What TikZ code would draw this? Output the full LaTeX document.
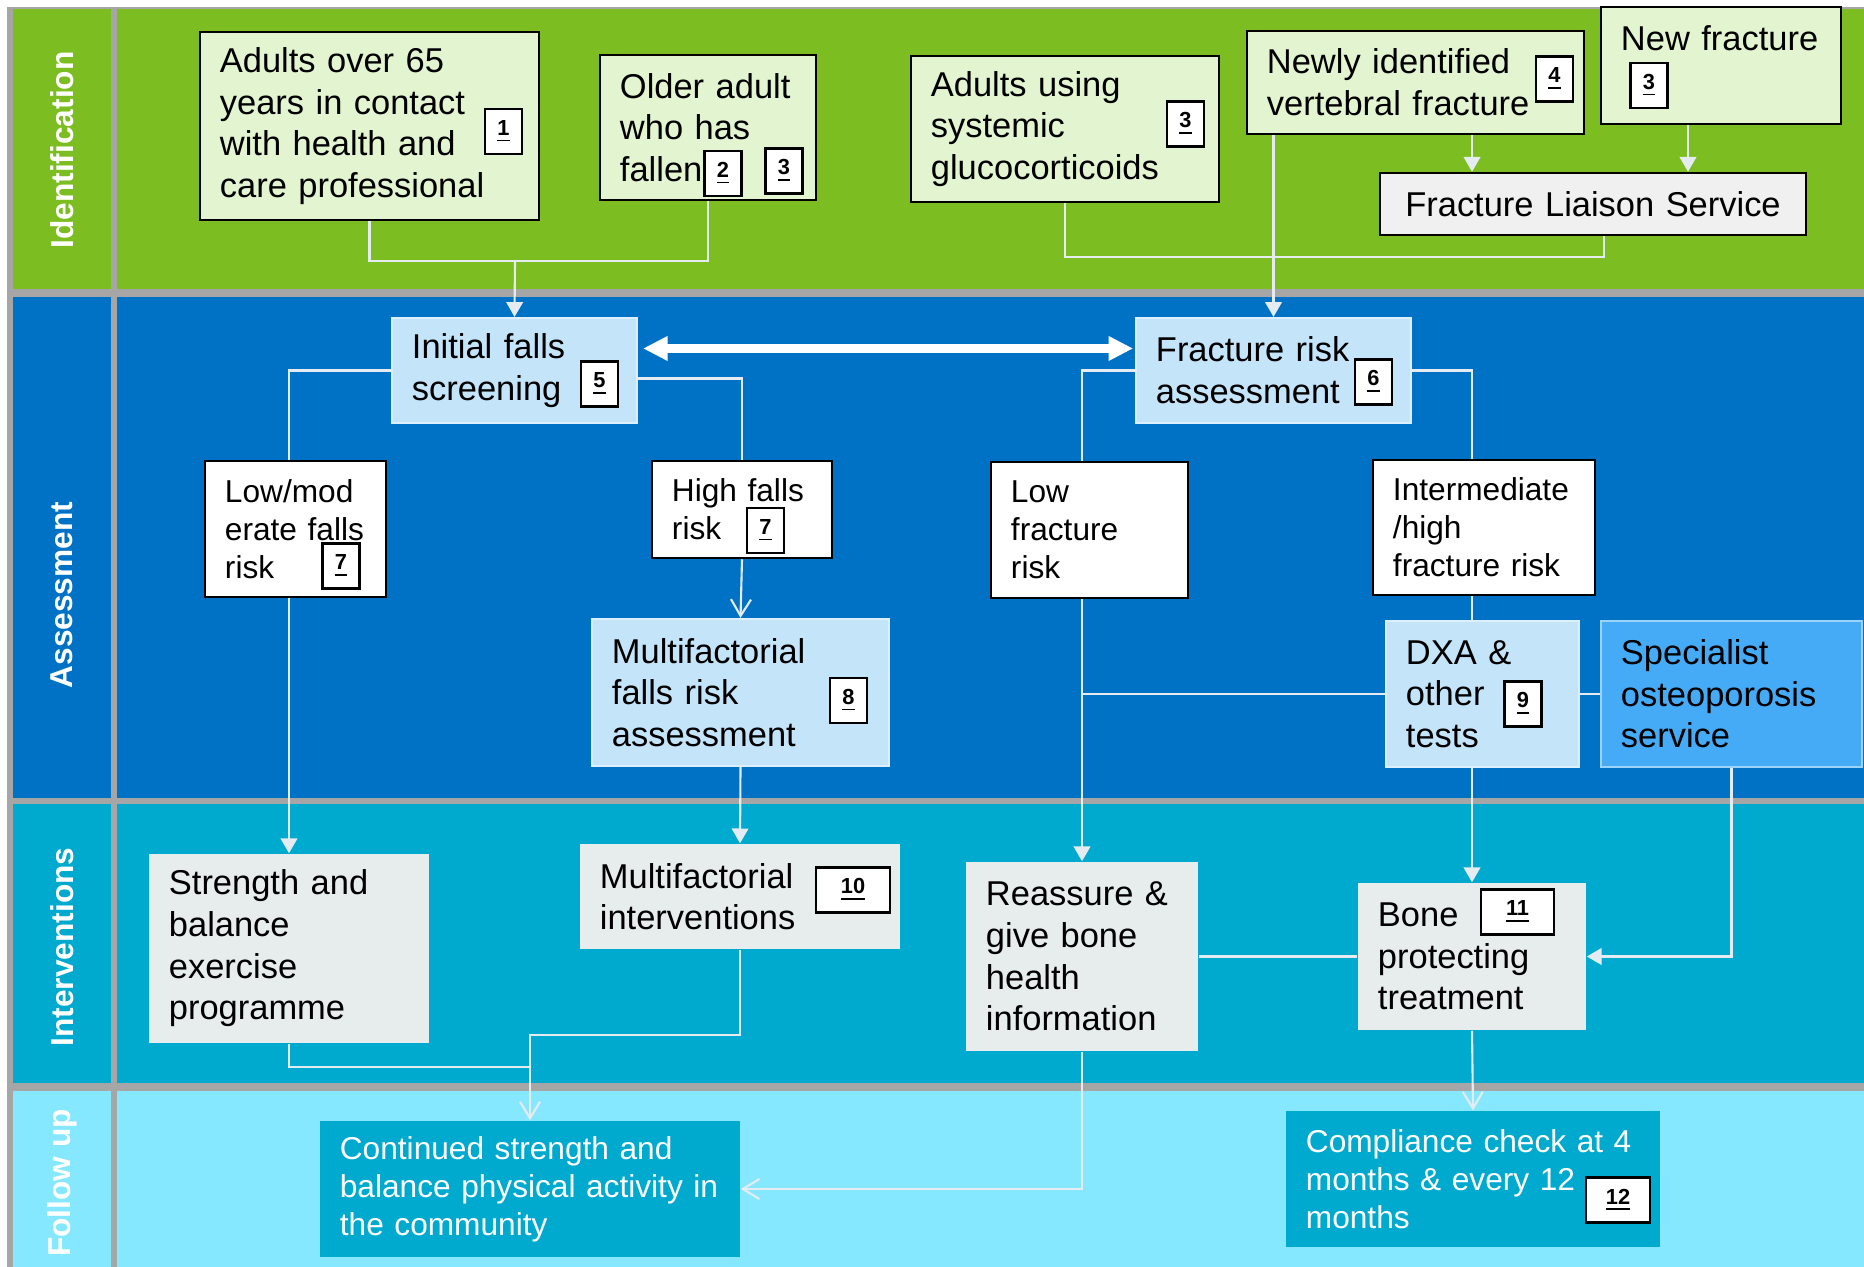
\documentclass[tikz,border=0pt]{standalone}
\usepackage{fontspec}
\setmainfont{Liberation Sans}
\usetikzlibrary{arrows.meta}

\definecolor{bandgreen}{RGB}{124,190,33}
\definecolor{boxgreen}{RGB}{227,245,208}
\definecolor{bandblue}{RGB}{0,114,198}
\definecolor{boxblue}{RGB}{196,228,250}
\definecolor{specblue}{RGB}{69,171,246}
\definecolor{bandint}{RGB}{0,169,206}
\definecolor{bandfol}{RGB}{134,232,255}
\definecolor{boxgray}{RGB}{231,236,236}
\definecolor{flsgray}{RGB}{240,240,240}
\definecolor{sepgray}{RGB}{166,166,166}
\definecolor{linecol}{RGB}{228,236,242}

\begin{document}
\begin{tikzpicture}[x=0.01cm,y=-0.01cm,
    big/.style={font=\fontsize{9.8}{11.84}\selectfont},
    small/.style={font=\fontsize{9}{10.8}\selectfont},
    box/.style={rectangle, inner xsep=0.2cm, inner ysep=0pt, align=left},
    idbox/.style={box, big, fill=boxgreen, draw=black, line width=0.7pt},
    wbox/.style={box, small, fill=white, draw=black, line width=0.7pt},
    lbbox/.style={box, big, fill=boxblue, draw=boxblue!60!white, line width=0.6pt},
    gbox/.style={box, big, fill=boxgray},
    tbox/.style={box, small, fill=bandint, text=white},
    refbox/.style={rectangle, fill=white, draw=black, line width=0.6pt, inner sep=0pt,
      minimum width=0.37cm, minimum height=0.45cm, font=\fontsize{6.2}{7}\selectfont\bfseries},
    lane/.style={rotate=90, text=white, font=\fontsize{9}{10.8}\selectfont\bfseries},
    sep/.style={draw=sepgray, line width=2pt},
    conn/.style={draw=linecol, line width=0.6pt},
    arrF/.style={conn, -{Triangle[length=4.2pt,width=4.7pt]}},
    arrV/.style={conn, -{Straight Barb[length=4.7pt,width=5.7pt]}},
    dbl/.style={draw=white, line width=2.3pt,
      {Triangle[length=7pt,width=6.6pt]}-{Triangle[length=7pt,width=6.6pt]},
      shorten <=1.4pt, shorten >=0.5pt}]

  \useasboundingbox (0,0) rectangle (1864,1267);
  \fill[white] (0,0) rectangle (1864,1267);

  \fill[bandgreen] (7,8) rectangle (1864,293);
  \fill[bandblue] (7,293) rectangle (1864,801);
  \fill[bandint] (7,801) rectangle (1864,1087);
  \fill[bandfol] (7,1087) rectangle (1864,1267);
  \draw[sep, line width=0.8pt] (7,8) -- (1864,8);
  \draw[sep] (7,293) -- (1864,293);
  \draw[sep, line width=1.5pt] (7,801) -- (1864,801);
  \draw[sep] (7,1087) -- (1864,1087);
  \draw[sep, line width=1.8pt] (10,7) -- (10,1267);
  \draw[sep, line width=1.7pt] (114,7) -- (114,1267);

  \node[lane] (lid)  at (62,150)  {Identification};
  \node[lane] (lass) at (62,595)  {Assessment};
  \node[lane] (lint) at (62,947)  {Interventions};
  \node[lane] (lfol) at (62,1183) {Follow up};

  \node[idbox, text width=2.99cm, minimum height=1.88cm] (adults) at (369.5,126)
    {Adults over 65\\years in contact\\with health and\\care professional};
  \node[idbox, text width=1.76cm, minimum height=1.45cm] (older) at (708,127.5)
    {Older adult\\who has\\fallen};
  \node[idbox, text width=2.68cm, minimum height=1.46cm] (gluco) at (1065,129)
    {Adults using\\systemic\\glucocorticoids};
  \node[idbox, text width=2.97cm, minimum height=1.03cm] (newly) at (1415.5,82.5)
    {Newly identified\\vertebral fracture};
  \node[idbox, text width=2.00cm, minimum height=1.17cm] (newfx) at (1721,65.5)
    {New fracture\\\strut};
  \node[box, big, fill=flsgray, draw=black, line width=0.7pt, align=center,
    text width=3.86cm, minimum height=0.62cm] (fls) at (1593,204)
    {Fracture Liaison Service};

  \node[lbbox, text width=2.05cm, minimum height=1.05cm] (falls) at (514.5,370.5)
    {Initial falls\\screening};
  \node[lbbox, text width=2.35cm, minimum height=1.05cm] (frisk) at (1273.5,370.5)
    {Fracture risk\\assessment};
  \node[wbox, text width=1.41cm, minimum height=1.36cm] (lowmod) at (295.5,529)
    {Low/mod\\erate falls\\risk};
  \node[wbox, text width=1.40cm, minimum height=0.97cm] (highf) at (742,509.5)
    {High falls\\risk};
  \node[wbox, text width=1.57cm, minimum height=1.36cm] (lowfx) at (1089.5,530)
    {Low\\fracture\\risk};
  \node[wbox, text width=1.82cm, minimum height=1.35cm] (inter) at (1484,527.5)
    {Intermediate\\/high\\fracture risk};
  \node[lbbox, text width=2.57cm, minimum height=1.47cm] (mfalls) at (740.5,692.5)
    {Multifactorial\\falls risk\\assessment};
  \node[lbbox, text width=1.53cm, minimum height=1.46cm] (dxa) at (1482.5,694)
    {DXA \&\\other\\tests};
  \node[box, big, fill=specblue, draw=boxblue!70!specblue, line width=0.6pt,
    text width=2.21cm, minimum height=1.46cm] (spec) at (1731.5,694)
    {Specialist\\osteoporosis\\service};

  \node[gbox, text width=2.40cm, minimum height=1.89cm] (strength) at (289,948.5)
    {Strength and\\balance\\exercise\\programme};
  \node[gbox, text width=2.80cm, minimum height=1.05cm] (mint) at (740,896.5)
    {Multifactorial\\interventions};
  \node[gbox, text width=1.92cm, minimum height=1.89cm] (reassure) at (1082,956.5)
    {Reassure \&\\give bone\\health\\information};
  \node[gbox, text width=1.88cm, minimum height=1.47cm] (bone) at (1472,956.5)
    {Bone\\protecting\\treatment};

  \node[tbox, text width=3.80cm, minimum height=1.36cm] (cont) at (530,1189)
    {Continued strength and\\balance physical activity in\\the community};
  \node[tbox, text width=3.34cm, minimum height=1.36cm] (compl) at (1473,1179)
    {Compliance check at 4\\months \& every 12\\months};

  \node[refbox] (ref1)  at (503.5,131.5) {\underline{1}};
  \node[refbox] (ref2)  at (723,173.5)   {\underline{2}};
  \node[refbox] (ref3a) at (784,171)     {\underline{3}};
  \node[refbox] (ref3b) at (1185.5,124)  {\underline{3}};
  \node[refbox] (ref4)  at (1554.5,79)   {\underline{4}};
  \node[refbox] (ref3c) at (1649,85.5)   {\underline{3}};
  \node[refbox] (ref5)  at (599.5,384)   {\underline{5}};
  \node[refbox] (ref6)  at (1373.5,382)  {\underline{6}};
  \node[refbox] (ref7a) at (341,566)     {\underline{7}};
  \node[refbox] (ref7b) at (765.5,530.5) {\underline{7}};
  \node[refbox] (ref8)  at (848.5,700.5) {\underline{8}};
  \node[refbox] (ref9)  at (1523,704)    {\underline{9}};
  \node[refbox, minimum width=0.74cm] (ref10) at (853,890)    {\underline{10}};
  \node[refbox, minimum width=0.73cm] (ref11) at (1517.5,912) {\underline{11}};
  \node[refbox, minimum width=0.64cm] (ref12) at (1618,1200)  {\underline{12}};

  \coordinate (jfall) at (515,261);
  \coordinate (jfls)  at (1604,257);
  \coordinate (jstr)  at (530,1067);
  \coordinate (jmint) at (530,1035);
  \coordinate (nfl) at ([xshift=0.565cm]newly.south);
  \coordinate (nfx) at ([xshift=-0.33cm]newfx.south);
  \coordinate (fh)  at ([yshift=-0.08cm]falls.east);

  \draw[conn] (adults.south) |- (jfall) -| (older.south);
  \draw[arrF] (jfall) -- (falls.north);
  \draw[conn] (gluco.south) |- (jfls) -- (jfls |- fls.south);
  \draw[arrF] (frisk.north |- newly.south) -- (frisk.north);
  \draw[arrF] (nfl) -- (nfl |- fls.north);
  \draw[arrF] (nfx) -- (nfx |- fls.north);

  \draw[dbl] ([yshift=0.22cm]falls.east) -- ([yshift=0.22cm]frisk.west);

  \draw[conn] (falls.west) -| (strength.north |- lowmod.north);
  \draw[conn] (fh) -| (highf.north);
  \draw[arrV] (highf.south) -- (mfalls.north);
  \draw[arrF] (strength.north |- lowmod.south) -- (strength.north);
  \draw[arrF] (mfalls.south) -- (mint.north);
  \draw[conn] (frisk.west) -| (reassure.north |- lowfx.north);
  \draw[conn] (frisk.east) -| (bone.north |- inter.north);
  \draw[conn] (bone.north |- inter.south) -- (bone.north |- dxa.north);
  \draw[arrF] (reassure.north |- lowfx.south) -- (reassure.north);
  \draw[conn] (dxa.west) -- (dxa.west -| reassure.north);
  \draw[conn] (dxa.east) -- (spec.west);
  \draw[arrF] (bone.north |- dxa.south) -- (bone.north);
  \draw[arrF] (spec.south) |- (bone.east);
  \draw[conn] (reassure.east) -- (bone.west);
  \draw[arrV] (bone.south) -- (compl.north);
  \draw[arrV] (reassure.south) |- (cont.east);
  \draw[conn] (strength.south) |- (jstr);
  \draw[arrV] (mint.south) |- (jmint) -- (cont.north);

\end{tikzpicture}
\end{document}
